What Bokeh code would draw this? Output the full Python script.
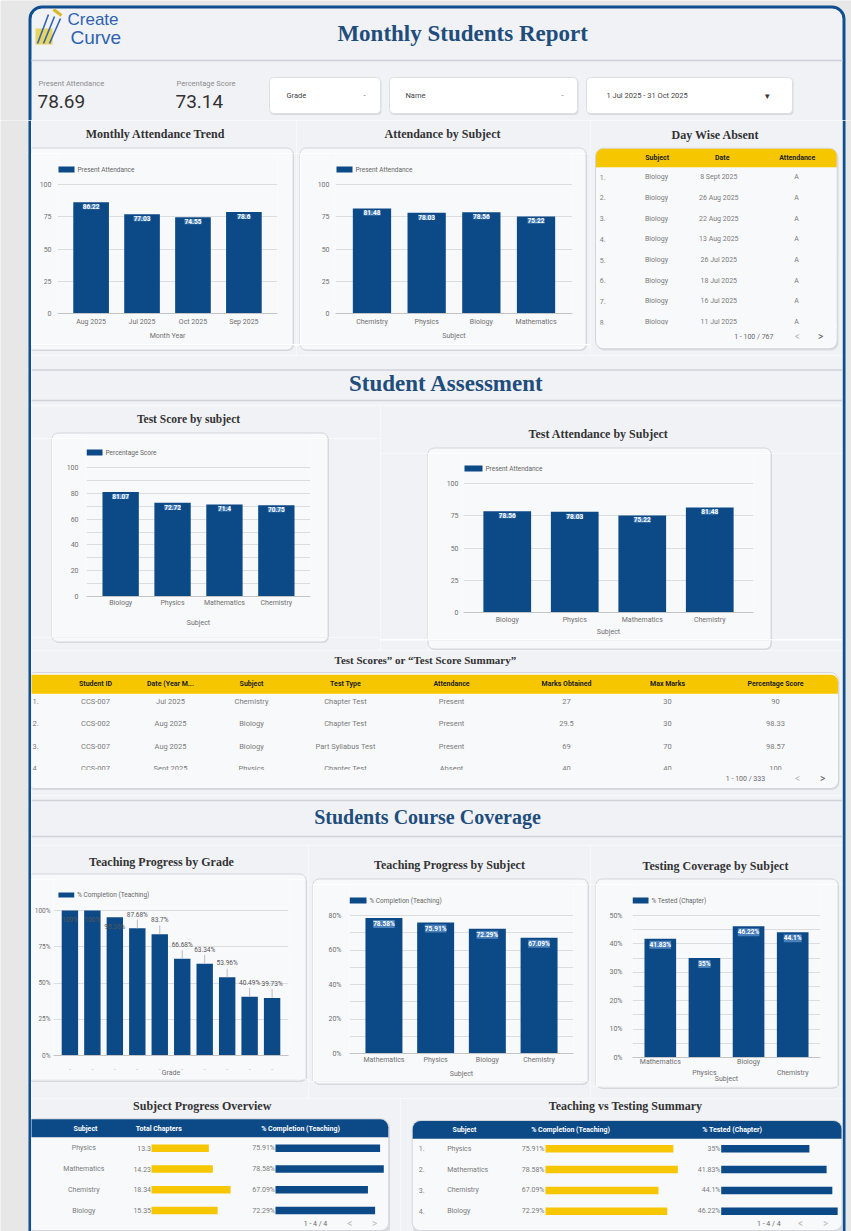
from bokeh.plotting import figure
from bokeh.models import Range1d, FixedTicker, PrintfTickFormatter, LinearAxis
from bokeh.layouts import column, row
from bokeh.core.properties import value
from bokeh.embed import file_html
from bokeh.resources import INLINE

# ---------------- data ----------------
present_attendance = "78.69"
percentage_score = "73.14"

month_cats = ["Aug 2025", "Jul 2025", "Oct 2025", "Sep 2025"]
month_att = [86.22, 77.03, 74.55, 78.6]

subj_att_cats = ["Chemistry", "Physics", "Biology", "Mathematics"]
subj_att = [81.48, 78.03, 78.56, 75.22]

day_subjects = ["Biology"] * 8
day_dates = ["8 Sept 2025", "26 Aug 2025", "22 Aug 2025", "13 Aug 2025",
             "26 Jul 2025", "18 Jul 2025", "16 Jul 2025", "11 Jul 2025"]
day_att = ["A"] * 8

score_cats = ["Biology", "Physics", "Mathematics", "Chemistry"]
score_vals = [81.07, 72.72, 71.4, 70.75]

test_att_cats = ["Biology", "Physics", "Mathematics", "Chemistry"]
test_att = [78.56, 78.03, 75.22, 81.48]

ts_headers = ["Student ID", "Date (Year M...", "Subject", "Test Type", "Attendance",
              "Marks Obtained", "Max Marks", "Percentage Score"]
ts_student = ["CCS-007", "CCS-002", "CCS-007", "CCS-007"]
ts_date = ["Jul 2025", "Aug 2025", "Aug 2025", "Sept 2025"]
ts_subject = ["Chemistry", "Biology", "Biology", "Physics"]
ts_type = ["Chapter Test", "Chapter Test", "Part Syllabus Test", "Chapter Test"]
ts_attend = ["Present", "Present", "Present", "Absent"]
ts_marks = [27, 29.5, 69, 40]
ts_max = [30, 30, 70, 40]
ts_pct = [90, 98.33, 98.57, 100]

grade_cats = ["Grade 1", "Grade 2", "Grade 3", "Grade 4", "Grade 5",
              "Grade 6", "Grade 7", "Grade 8", "Grade 9", "Grade 10"]
grade_pct = [100, 100, 95.36, 87.68, 83.7, 66.68, 63.34, 53.96, 40.49, 39.73]

teach_cats = ["Mathematics", "Physics", "Biology", "Chemistry"]
teach_pct = [78.58, 75.91, 72.29, 67.09]

tested_cats = ["Mathematics", "Physics", "Biology", "Chemistry"]
tested_pct = [41.83, 35, 46.22, 44.1]

spo_subjects = ["Physics", "Mathematics", "Chemistry", "Biology"]
spo_chapters = [13.3, 14.23, 18.34, 15.35]
spo_completion = [75.91, 78.58, 67.09, 72.29]

tvt_subjects = ["Physics", "Mathematics", "Chemistry", "Biology"]
tvt_completion = [75.91, 78.58, 67.09, 72.29]
tvt_tested = [35, 41.83, 44.1, 46.22]

# ---------------- style ----------------
PAGE = "#f1f2f6"
PANEL = "#f8f9fb"
OUT = "#e7e7e7"
BLUE = "#0c4a87"
FRAME = "#0f4f90"
YEL = "#f6c700"
GRID = "#dcdde1"
TICK = "#707070"
TTL = "#333333"
NAVY = "#1f4d7c"
PLINE = "#d3d5da"
SHADOW = "#d9dbe0"
CELL = "#7b7b7b"
SANS = "Roboto"
SERIF = "Liberation Serif"


def txt(p, xs, ys, texts, size="7px", color=CELL, align="left", font=SANS, style="normal",
        baseline="middle", **kw):
    p.text(x=xs, y=ys, text=texts, text_font=value(font), text_font_size=size,
           text_color=color, text_align=align, text_baseline=baseline,
           text_font_style=style, **kw)


def deco(W, H, bg=PAGE):
    p = figure(width=W, height=H, x_range=Range1d(0, W), y_range=Range1d(H, 0), title=None,
               x_axis_type=None, y_axis_type=None, toolbar_location=None,
               output_backend="svg", min_border=0, frame_align=False)
    p.outline_line_color = None
    p.background_fill_color = bg
    p.border_fill_color = bg
    return p


def style_xaxis(ax, stand, size, label, astand, line=True):
    ax.axis_line_color = "#c4c4c4" if line else None
    ax.major_tick_line_color = None
    ax.minor_tick_line_color = None
    ax.major_tick_out = 0
    ax.minor_tick_out = 0
    ax.major_label_standoff = stand
    ax.major_label_text_font = SANS
    ax.major_label_text_font_size = size
    ax.major_label_text_color = TICK
    ax.axis_label = label
    ax.axis_label_text_font = SANS
    ax.axis_label_text_font_size = "7px"
    ax.axis_label_text_font_style = "normal"
    ax.axis_label_text_color = TICK
    ax.axis_label_standoff = astand


def chart_block(W, H, panel, frame, title, tpos, tsize, leg_text, lbox, cats, vals, y_end,
                y_major, y_minor=None, pct=False, xlabel="Subject", bw=0.7, pad=0.16,
                inside=True, xstand=5, astand=5, ysize="7px", ystand=6, xsize="7px",
                mode="cat", extra=4, xstand2=0):
    pl, pt, pr, pb = panel
    fl, ft, fr, fb = frame
    R = 6
    top_h = pt + R
    bot_h = H - pb + extra
    mid_h = H - top_h - bot_h
    lw = pl + 1 if pl > 0 else 0
    cw = pr - lw
    rw = W - pr

    # top piece: title + upper part of the panel
    top = deco(W, top_h)
    top.quad(left=pl + 1.5, right=pr + 1.5, top=pt + 1.5, bottom=top_h + 40,
             fill_color=SHADOW, line_color=None, border_radius=R)
    top.quad(left=pl + 0.5, right=pr + 0.5, top=pt + 0.5, bottom=top_h + 40,
             fill_color=PANEL, line_color=PLINE, border_radius=R)
    txt(top, [tpos[0]], [tpos[1]], [title], tsize, TTL, align="center", font=SERIF,
        style="bold")

    # bottom piece: lower part of the panel
    bot = deco(W, bot_h)
    pbl = pb - (H - bot_h)
    bot.quad(left=pl + 1.5, right=pr + 1.5, top=-40, bottom=pbl + 1.5, fill_color=SHADOW,
             line_color=None, border_radius=R)
    bot.quad(left=pl + 0.5, right=pr + 0.5, top=-40, bottom=pbl + 0.5, fill_color=PANEL,
             line_color=PLINE, border_radius=R)

    mids = []
    if lw > 0:
        lf = deco(lw, mid_h)
        lf.quad(left=pl + 0.5, right=lw + 5, top=-5, bottom=mid_h + 5, fill_color=PANEL,
                line_color=PLINE)
        mids.append(lf)

    y_ext = y_end * (fb - top_h) / (fb - ft)
    n = len(cats)
    xs = [i + 0.5 for i in range(n)]          # category slots on the x scale
    p = figure(width=cw, height=mid_h, title=None,
               x_range=Range1d(-pad, n + pad), y_range=Range1d(0, y_ext),
               toolbar_location=None, output_backend="svg",
               x_axis_location=("below" if mode == "cat" else None),
               min_border_left=int(round(fl - lw)), min_border_right=int(round(pr - fr)),
               min_border_top=0, min_border_bottom=int(round((H - bot_h) - fb)),
               frame_align=False)
    p.background_fill_color = PANEL
    p.border_fill_color = PANEL
    p.outline_line_color = None
    tk = FixedTicker(ticks=y_major, minor_ticks=y_minor or [])
    p.yaxis.ticker = tk
    p.ygrid.ticker = tk
    p.ygrid.grid_line_color = GRID
    if y_minor:
        p.ygrid.minor_grid_line_color = GRID
    p.xgrid.grid_line_color = None
    if pct:
        p.yaxis.formatter = PrintfTickFormatter(format="%d%%")
    p.yaxis.axis_line_color = None
    p.yaxis.major_tick_line_color = None
    p.yaxis.minor_tick_line_color = None
    p.yaxis.major_tick_out = 0
    p.yaxis.minor_tick_out = 0
    p.yaxis.major_label_standoff = ystand
    p.yaxis.major_label_text_font = SANS
    p.yaxis.major_label_text_font_size = ysize
    p.yaxis.major_label_text_color = TICK

    p.extra_x_ranges = {"px": Range1d(fl, fr)}
    p.extra_y_ranges = {"py": Range1d(fb, top_h)}

    if mode == "cat":
        ax = p.xaxis[0]
        ax.ticker = FixedTicker(ticks=xs)
        ax.major_label_overrides = {xs[i]: cats[i] for i in range(n)}
        style_xaxis(ax, xstand, xsize, xlabel, astand)
    else:
        if mode == "dots":
            groups = [list(range(n))]
            stands = [xstand]
        else:
            groups = [list(range(0, n, 2)), list(range(1, n, 2))]
            stands = [xstand, xstand2]
        for gi, idx in enumerate(groups):
            ax = LinearAxis(ticker=FixedTicker(ticks=[xs[i] for i in idx]))
            ax.major_label_overrides = {xs[i]: ("\u2025" if mode == "dots" else cats[i])
                                        for i in idx}
            last = gi == len(groups) - 1
            style_xaxis(ax, stands[gi], xsize, xlabel if last else "",
                        astand if last else 0, line=(gi == 0))
            p.add_layout(ax, "below")

    p.vbar(x=xs, top=vals, width=bw, fill_color=BLUE, line_color=None)
    if inside:
        labs = [f"{v:g}%" if pct else f"{v:g}" for v in vals]
        p.text(x=xs, y=vals, text=labs, text_align="center", text_baseline="top",
               y_offset=2, text_font=value(SANS), text_font_size="6.5px",
               text_font_style="bold", text_color="#ffffff",
               background_fill_color="#5f93cc", background_fill_alpha=0.75)

    # legend drawn inside the frame, in panel pixel coordinates
    lx0, lx1, ly0, ly1 = lbox
    p.quad(left=lx0, right=lx1, top=ly0, bottom=ly1, x_range_name="px", y_range_name="py",
           fill_color=BLUE, line_color=None)
    txt(p, [lx1 + 3], [(ly0 + ly1) / 2], [leg_text], "6.5px", "#666666",
        x_range_name="px", y_range_name="py")
    mids.append(p)

    rf = deco(rw, mid_h)
    rf.quad(left=-10, right=1.5, top=-5, bottom=mid_h + 5, fill_color=SHADOW, line_color=None)
    rf.quad(left=-10, right=0.5, top=-5, bottom=mid_h + 5, fill_color=PANEL, line_color=PLINE)
    mids.append(rf)

    return column(top, row(*mids), bot), p, xs


# ---------------- header ----------------
hdr = deco(851, 120, OUT)
hdr.quad(left=29.5, right=843.5, top=6.5, bottom=220, fill_color=PAGE, line_color=FRAME,
         line_width=3, border_radius=12)
hdr.quad(left=35, right=52, top=28, bottom=44, fill_color="#e6cf45", fill_alpha=0.85,
         line_color=None)
hdr.segment(x0=[37, 43, 49], y0=[43, 43, 43], x1=[48, 54, 60], y1=[14, 16, 18],
            line_color="#3565b0", line_width=1.6)
hdr.segment(x0=[53], y0=[9], x1=[61], y1=[15], line_color="#d9b52a", line_width=3)
txt(hdr, [67], [19], ["Create"], "17px", "#2d63b0", font="Liberation Sans")
txt(hdr, [70], [36.5], ["Curve"], "19px", "#2d63b0", font="Liberation Sans")
txt(hdr, [465], [33], ["Monthly Students  Report"], "23px", NAVY, align="center",
    font=SERIF, style="bold")
hdr.segment(x0=[31], y0=[60], x1=[842], y1=[60], line_color="#cdd0d6", line_width=1.5)
txt(hdr, [38, 176], [83, 83], ["Present Attendance", "Percentage Score"], "7.5px", "#8c8c8c")
txt(hdr, [37, 175], [100.5, 100.5], [present_attendance, percentage_score], "19px", "#333333")
for l, r in [(269, 380), (389, 577), (586, 792)]:
    hdr.quad(left=l + 0.5, right=r + 1, top=78, bottom=114.5, fill_color="#d7d9de",
             line_color=None, border_radius=4)
    hdr.quad(left=l, right=r, top=77, bottom=113, fill_color="#ffffff",
             line_color="#dcdee2", border_radius=4)
txt(hdr, [286, 405, 606], [95, 95, 95], ["Grade", "Name", "1 Jul 2025 - 31 Oct 2025"],
    "7.5px", "#444444")
txt(hdr, [364, 562], [95, 95], ["-", "-"], "7.5px", "#666666", align="center")
txt(hdr, [767], [95], ["▾"], "9px", "#333333", align="center")

# ---------------- side strips ----------------
ls = deco(31, 1111, OUT)
ls.segment(x0=[29.5], y0=[0], x1=[29.5], y1=[1111], line_color=FRAME, line_width=3)
rs = deco(9, 1111, OUT)
rs.segment(x0=[1.5], y0=[0], x1=[1.5], y1=[1111], line_color=FRAME, line_width=3)

# ---------------- row 1 ----------------
b1, p1, x1 = chart_block(265, 235, (-5, 27, 261, 228), (26, 64, 246, 193),
                         "Monthly Attendance Trend", (124, 13), "12px", "Present Attendance",
                         (27, 43, 46, 52), month_cats, month_att, 100, [0, 25, 50, 75, 100],
                         xlabel="Month Year", bw=0.7, pad=0.16, xstand=4, astand=3)
b2, p2, x2 = chart_block(294, 235, (3, 27, 289, 228), (39, 64, 276, 193),
                         "Attendance by Subject", (146, 13), "12px", "Present Attendance",
                         (40, 56, 46, 52), subj_att_cats, subj_att, 100, [0, 25, 50, 75, 100],
                         bw=0.7, pad=0.167, xstand=4, astand=3)

f3 = deco(252, 235)
txt(f3, [125], [14], ["Day Wise Absent"], "12px", TTL, align="center", font=SERIF, style="bold")
f3.quad(left=6, right=248, top=29, bottom=230, fill_color=SHADOW, line_color=None,
        border_radius=8)
f3.quad(left=5, right=246.7, top=27.7, bottom=228.3, fill_color=PANEL, line_color=PLINE,
        border_radius=8)
f3.quad(left=5.5, right=246.2, top=28.2, bottom=46.7, fill_color=YEL, line_color=None,
        border_radius=(7, 7, 0, 0))
txt(f3, [66.7, 131.7, 206.7], [37.5] * 3, ["Subject", "Date", "Attendance"], "7px", "#222222",
    align="center", style="bold")
d_y = [56.7 + 20.7 * i for i in range(len(day_dates))]
txt(f3, [9.3] * len(d_y), d_y, [f"{i + 1}." for i in range(len(d_y))], "7px", CELL)
txt(f3, [66] * len(d_y), d_y, day_subjects, "7px", CELL, align="center")
txt(f3, [128.3] * len(d_y), d_y, day_dates, "7px", CELL, align="center")
txt(f3, [206] * len(d_y), d_y, day_att, "7px", CELL, align="center")
f3.quad(left=6, right=246, top=204, bottom=209, fill_color=PANEL, line_color=None)
txt(f3, [163.3], [216], ["1 - 100 / 767"], "7px", "#666666", align="center")
txt(f3, [206.7], [215.5], ["<"], "10px", "#bbbbbb", align="center")
txt(f3, [230], [215.5], [">"], "10px", "#555555", align="center")

# ---------------- section 1 ----------------
sec1 = deco(811, 50)
sec1.segment(x0=[0, 0], y0=[14.5, 45], x1=[811, 811], y1=[14.5, 45], line_color="#cfd2d8",
             line_width=1.5)
txt(sec1, [415], [28], ["Student Assessment"], "23px", NAVY, align="center", font=SERIF,
    style="bold")

# ---------------- row 2 ----------------
b4, p4, x4 = chart_block(349, 245, (20, 27, 296, 236), (55, 62, 279, 191),
                         "Test Score by subject", (157, 13), "11.5px", "Percentage Score",
                         (55, 71, 44, 50), score_cats, score_vals, 100,
                         [0, 20, 40, 60, 80, 100], y_minor=[10, 30, 50, 70, 90],
                         bw=0.7, pad=0.158, xstand=2, astand=9, ystand=8)
b5, p5, x5 = chart_block(462, 245, (47, 42, 390, 242), (83, 78, 373, 207),
                         "Test Attendance by Subject", (218, 28), "12px", "Present Attendance",
                         (84, 102, 60, 66), test_att_cats, test_att, 100,
                         [0, 25, 50, 75, 100], bw=0.707, pad=0.148, ystand=5, xstand=3,
                         astand=1, extra=8)

# ---------------- test score table ----------------
f6 = deco(811, 145)
txt(f6, [394], [9], ["Test Scores\u201d or \u201cTest Score Summary\u201d"], "11px", TTL,
    align="center", font=SERIF, style="bold")
f6.quad(left=-5, right=808, top=23.5, bottom=139.5, fill_color=SHADOW, line_color=None,
        border_radius=8)
f6.quad(left=-5, right=807, top=22, bottom=138, fill_color=PANEL, line_color=PLINE,
        border_radius=8)
f6.quad(left=-5, right=806.5, top=24.3, bottom=43.3, fill_color=YEL, line_color=None,
        border_radius=(0, 7, 0, 0))
cols = [64, 139, 220, 314, 420, 535, 636, 744]
txt(f6, cols, [33.5] * len(cols), ts_headers, "7px", "#222222", align="center", style="bold")
t_y = [50.5 + 22.5 * i for i in range(len(ts_student))]
txt(f6, [1] * len(t_y), t_y, [f"{i + 1}." for i in range(len(t_y))], "7.5px", CELL)
for cx, colvals in zip(cols, [ts_student, ts_date, ts_subject, ts_type, ts_attend,
                              [f"{v:g}" for v in ts_marks], [f"{v:g}" for v in ts_max],
                              [f"{v:g}" for v in ts_pct]]):
    txt(f6, [cx] * len(t_y), t_y, colvals, "7.5px", CELL, align="center")
f6.quad(left=0, right=806, top=119.5, bottom=123.5, fill_color=PANEL, line_color=None)
txt(f6, [714], [128], ["1 - 100 / 333"], "7px", "#666666", align="center")
txt(f6, [766], [127.5], ["<"], "10px", "#bbbbbb", align="center")
txt(f6, [791], [127.5], [">"], "10px", "#555555", align="center")

# ---------------- section 2 ----------------
sec2 = deco(811, 50)
sec2.segment(x0=[0, 0], y0=[5, 41], x1=[811, 811], y1=[5, 41], line_color="#cfd2d8",
             line_width=1.5)
txt(sec2, [396], [21], ["Students Course Coverage"], "20px", NAVY, align="center",
    font=SERIF, style="bold")

# ---------------- row 4 ----------------
R4 = 253
b7, p7, x7 = chart_block(277, R4, (-5, 28, 274, 235), (19, 65, 257, 210),
                         "Teaching Progress by Grade", (130, 16.5), "12px",
                         "% Completion (Teaching)", (24, 40, 47, 52), grade_cats, grade_pct,
                         100, [0, 25, 50, 75, 100], pct=True, xlabel="Grade", bw=0.73,
                         pad=0.23, inside=False, xstand=9, astand=-5, ysize="6.5px",
                         ystand=3, xsize="5px", mode="dots", extra=1)
lab_y = [v + 9.5 if v + 9.5 <= 100 else v - 6.5 for v in grade_pct]
up = [i for i, v in enumerate(grade_pct) if v + 9.5 <= 100]
p7.segment(x0=[x7[i] for i in up], y0=[grade_pct[i] for i in up],
           x1=[x7[i] for i in up], y1=[lab_y[i] - 3.5 for i in up],
           line_color="#b9bcc2", line_width=1)
p7.text(x=x7, y=lab_y, text=[f"{v:g}%" for v in grade_pct], text_align="center",
        text_baseline="middle", text_font=value(SANS), text_font_size="6.5px",
        text_color="#555555")

b8, p8, x8 = chart_block(282, R4, (4, 33, 279, 238), (41, 70, 265, 208),
                         "Teaching Progress by Subject", (141, 19), "12px",
                         "% Completion (Teaching)", (41, 58, 52, 58), teach_cats, teach_pct,
                         80, [0, 20, 40, 60, 80], y_minor=[10, 30, 50, 70], pct=True,
                         bw=0.715, pad=0.166, xstand=2, astand=3, ystand=8, extra=2)
b9, p9, x9 = chart_block(252, R4, (5, 33, 247, 242), (42, 70, 230, 212),
                         "Testing Coverage by Subject", (125, 20.5), "12px",
                         "% Tested (Chapter)", (42, 58, 52, 58), tested_cats, tested_pct, 50,
                         [0, 10, 20, 30, 40, 50], y_minor=[5, 15, 25, 35, 45], pct=True,
                         bw=0.717, pad=0.13, xstand=0, xstand2=0, astand=-5, ystand=10,
                         mode="split", extra=1)

# ---------------- row 5 ----------------
R5H = 1111 - 235 - 50 - 245 - 145 - 50 - R4
D = 139 - R5H            # vertical shift of this row's contents

f10 = deco(369, R5H)
txt(f10, [170.7], [13 - D], ["Subject Progress Overview"], "12px", TTL, align="center",
    font=SERIF, style="bold")
f10.quad(left=-5, right=358.5, top=27.5 - D, bottom=139.5, fill_color=SHADOW,
         line_color=None, border_radius=8)
f10.quad(left=-5, right=357.3, top=26.3 - D, bottom=138 - D, fill_color=PANEL,
         line_color=PLINE, border_radius=8)
f10.quad(left=-5, right=356.8, top=26.8 - D, bottom=44.7 - D, fill_color=BLUE,
         line_color=None, border_radius=(0, 8, 0, 0))
txt(f10, [54, 127.3, 269], [36 - D] * 3,
    ["Subject", "Total Chapters", "% Completion (Teaching)"], "7px", "#ffffff",
    align="center", style="bold")
s_y = [55.7 - D + 20.8 * i for i in range(len(spo_subjects))]
txt(f10, [52.3] * len(s_y), s_y, spo_subjects, "7px", CELL, align="center")
txt(f10, [119.5] * len(s_y), s_y, [f"{v:g}" for v in spo_chapters], "7px", CELL, align="right")
txt(f10, [243.5] * len(s_y), s_y, [f"{v:g}%" for v in spo_completion], "7px", CELL,
    align="right")
f10.extra_x_ranges = {"chap": Range1d(-120 / 4.31, (369 - 120) / 4.31),
                      "comp": Range1d(-244 / 1.378, (369 - 244) / 1.378)}
f10.hbar(y=s_y, left=0, right=spo_chapters, height=7.5, x_range_name="chap", fill_color=YEL,
         line_color=None)
f10.hbar(y=s_y, left=0, right=spo_completion, height=7.5, x_range_name="comp",
         fill_color=BLUE, line_color=None)
txt(f10, [284], [131.3 - D], ["1 - 4 / 4"], "7px", "#666666", align="center")
txt(f10, [318.3], [130.8 - D], ["<"], "10px", "#bbbbbb", align="center")
txt(f10, [343], [130.8 - D], [">"], "10px", "#bbbbbb", align="center")

f11 = deco(442, R5H)
txt(f11, [225], [13 - D], ["Teaching vs Testing Summary"], "12px", TTL, align="center",
    font=SERIF, style="bold")
f11.quad(left=12.7, right=443, top=29.5 - D, bottom=139.5, fill_color=SHADOW,
         line_color=None, border_radius=8)
f11.quad(left=11.7, right=441.5, top=28 - D, bottom=138 - D, fill_color=PANEL,
         line_color=PLINE, border_radius=8)
f11.quad(left=12.2, right=441, top=28.5 - D, bottom=46.3 - D, fill_color=BLUE,
         line_color=None, border_radius=(8, 8, 0, 0))
txt(f11, [64, 170, 331.7], [37.5 - D] * 3, ["Subject", "% Completion (Teaching)",
                                            "% Tested (Chapter)"], "7px", "#ffffff",
    align="center", style="bold")
v_y = [56.3 - D + 20.8 * i for i in range(len(tvt_subjects))]
txt(f11, [18.3] * len(v_y), v_y, [f"{i + 1}." for i in range(len(v_y))], "7px", CELL)
txt(f11, [46.7] * len(v_y), v_y, tvt_subjects, "7px", CELL)
txt(f11, [144] * len(v_y), v_y, [f"{v:g}%" for v in tvt_completion], "7px", CELL,
    align="right")
txt(f11, [320] * len(v_y), v_y, [f"{v:g}%" for v in tvt_tested], "7px", CELL, align="right")
f11.extra_x_ranges = {"comp": Range1d(-145 / 1.684, (442 - 145) / 1.684),
                      "test": Range1d(-320.7 / 2.52, (442 - 320.7) / 2.52)}
f11.hbar(y=v_y, left=0, right=tvt_completion, height=7.5, x_range_name="comp",
         fill_color=YEL, line_color=None)
f11.hbar(y=v_y, left=0, right=tvt_tested, height=7.5, x_range_name="test", fill_color=BLUE,
         line_color=None)
txt(f11, [368.3], [131.3 - D], ["1 - 4 / 4"], "7px", "#666666", align="center")
txt(f11, [400], [130.8 - D], ["<"], "10px", "#bbbbbb", align="center")
txt(f11, [425], [130.8 - D], [">"], "10px", "#bbbbbb", align="center")

# ---------------- layout ----------------
content = column(row(b1, b2, f3), sec1, row(b4, b5), f6, sec2, row(b7, b8, b9),
                 row(f10, f11))
layout = column(hdr, row(ls, content, rs))

open("out.html", "w").write(file_html(layout, INLINE, title="Monthly Students Report"))
